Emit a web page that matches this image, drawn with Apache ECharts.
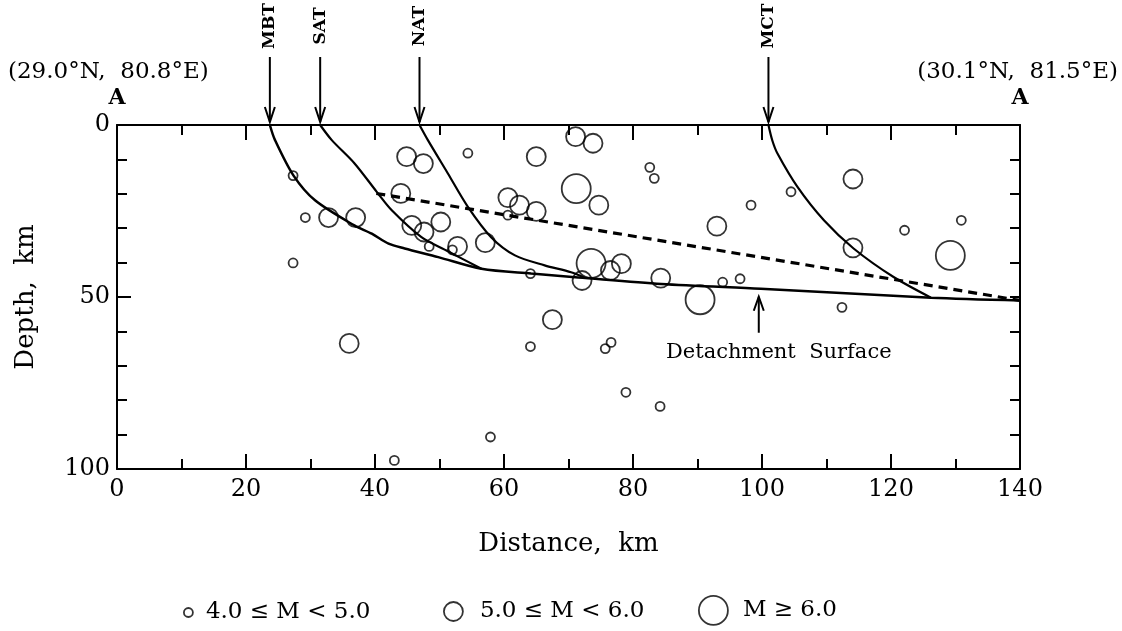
<!DOCTYPE html>
<html>
<head>
<meta charset="utf-8">
<script src="https://cdn.jsdelivr.net/npm/echarts@6/dist/echarts.min.js"></script>
<style>
  html, body { margin: 0; padding: 0; background: #fff; }
  #main { width: 1122px; height: 631px; }
</style>
</head>
<body>
<div id="main"></div>
<script>
// distance (km), depth (km)
var smallQuakes = [
  [27.3, 14.7], [29.2, 26.9], [54.4, 8.2], [60.6, 26.2], [48.4, 35.3], [52.0, 36.3],
  [27.3, 40.1], [64.1, 43.2], [64.1, 64.4], [57.9, 90.7], [43.0, 97.5], [82.6, 12.3],
  [83.3, 15.5], [98.3, 23.3], [104.5, 19.4], [122.1, 30.6], [130.9, 27.7], [93.9, 45.7],
  [96.6, 44.7], [112.4, 53.0], [75.7, 65.0], [76.6, 63.2], [78.9, 77.7], [84.2, 81.8]
];
var mediumQuakes = [
  [32.8, 26.9], [37.0, 26.9], [44.0, 19.9], [44.9, 9.2], [47.5, 11.2], [65.0, 9.2],
  [60.6, 21.1], [62.4, 23.3], [65.0, 25.1], [45.7, 29.2], [47.6, 31.1], [50.2, 28.2],
  [52.8, 35.3], [57.1, 34.2], [67.5, 56.6], [36.0, 63.5], [71.1, 3.4], [73.8, 5.3],
  [74.7, 23.3], [93.0, 29.4], [114.1, 15.7], [114.1, 35.7], [72.1, 45.2], [76.5, 42.3],
  [78.2, 40.3], [84.3, 44.5]
];
var largeQuakes = [[71.2, 18.5], [73.5, 40.2], [90.4, 50.8], [129.2, 37.9]];

// MBT continues as the detachment surface
var mbtFault = [[23.7, 0], [24.5, 4.4], [27.4, 14.8], [30.7, 21.9], [36.8, 29.2], [39.5, 31.6],
  [42.1, 34.5], [44.6, 35.9], [49.8, 38.4], [56.5, 41.8], [64.2, 43.2], [71.5, 44.3],
  [84.4, 46.2], [99.8, 47.6], [126.2, 50.2], [140, 51]];
var satFault = [[31.5, 0], [33.3, 4.4], [36.8, 11.1], [40.3, 19.5], [42.6, 24.8], [47.2, 32.6],
  [51.3, 36.7], [56.5, 41.8]];
var natFault = [[46.9, 0], [48.2, 4.4], [51.3, 14.1], [54.4, 23.8], [58.0, 32.6], [61.7, 37.9],
  [66.3, 40.8], [70.4, 42.8], [72.5, 44.4]];
var mctFault = [[101, 0], [101.6, 4.5], [102.4, 8.3], [105.5, 18], [109.6, 27.7], [114.2, 35.9],
  [120.4, 44.2], [126.2, 50.2]];
var dashedLine = [[40.2, 19.9], [140, 51]];

var faultNames = ['MBT', 'SAT', 'NAT', 'MCT'];
var faultTops = [23.7, 31.5, 46.9, 101];
var detachmentArrowAt = 99.5;

var legendNames = ['4.0 \u2264 M < 5.0', '5.0 \u2264 M < 6.0', 'M \u2265 6.0'];

var FONT = "'DejaVu Serif', serif";
var chart = echarts.init(document.getElementById('main'));

var axisLine = { show: true, onZero: false, lineStyle: { color: '#000', width: 2 } };
var tickStyle = { color: '#000', width: 2 };

function quakeSeries(name, data, size) {
  return {
    name: name,
    type: 'scatter',
    data: data,
    symbol: 'circle',
    symbolSize: size,
    itemStyle: { color: 'rgba(0,0,0,0)', borderColor: '#000', borderWidth: 1.8 },
    emphasis: { disabled: true },
    z: 3
  };
}
function faultSeries(data, width) {
  return {
    type: 'line',
    data: data,
    showSymbol: false,
    smooth: 0.3,
    lineStyle: { color: '#000', width: width },
    emphasis: { disabled: true },
    z: 2
  };
}
function legendFor(i, left, top, size, gap) {
  return {
    data: [legendNames[i]],
    left: left,
    top: top,
    icon: 'circle',
    itemWidth: size,
    itemHeight: size,
    itemStyle: { color: 'rgba(0,0,0,0)', borderColor: '#000', borderWidth: 1.8 },
    textStyle: { fontFamily: FONT, fontSize: 23, color: '#000', padding: [0, 0, 0, gap] },
    selectedMode: false
  };
}

var option = {
  animation: false,
  backgroundColor: '#fff',
  grid: { left: 117, right: 102, top: 125, bottom: 162 },
  xAxis: [{
    type: 'value', min: 0, max: 140, interval: 20, position: 'bottom',
    name: 'Distance,  km', nameLocation: 'middle', nameGap: 62,
    nameTextStyle: { fontFamily: FONT, fontSize: 26, color: '#000' },
    axisLine: axisLine,
    axisTick: { show: true, inside: true, length: 15, lineStyle: tickStyle },
    minorTick: { show: true, splitNumber: 2, length: 10, lineStyle: tickStyle },
    axisLabel: { fontFamily: FONT, fontSize: 24, color: '#000', margin: 9 },
    splitLine: { show: false }
  }, {
    type: 'value', min: 0, max: 140, interval: 20, position: 'top',
    axisLine: axisLine,
    axisTick: { show: true, inside: true, length: 15, lineStyle: tickStyle },
    minorTick: { show: true, splitNumber: 2, length: 10, lineStyle: tickStyle },
    axisLabel: { show: false }, splitLine: { show: false }
  }],
  yAxis: [{
    type: 'value', min: 0, max: 100, interval: 50, inverse: true, position: 'left',
    name: 'Depth,  km', nameLocation: 'middle', nameGap: 78,
    nameTextStyle: { fontFamily: FONT, fontSize: 26, color: '#000' },
    axisLine: axisLine,
    axisTick: { show: true, inside: true, length: 14, lineStyle: tickStyle },
    minorTick: { show: true, splitNumber: 5, length: 10, lineStyle: tickStyle },
    axisLabel: { fontFamily: FONT, fontSize: 24, color: '#000', margin: 7 },
    splitLine: { show: false }
  }, {
    type: 'value', min: 0, max: 100, interval: 50, inverse: true, position: 'right',
    axisLine: axisLine,
    axisTick: { show: true, inside: true, length: 10, lineStyle: tickStyle },
    minorTick: { show: true, splitNumber: 5, length: 10, lineStyle: tickStyle },
    axisLabel: { show: false }, splitLine: { show: false }
  }],
  legend: [
    legendFor(0, 178, 596, 9, 8),
    legendFor(1, 438, 595, 19, 12),
    legendFor(2, 693, 590, 29, 10)
  ],
  series: [
    quakeSeries(legendNames[0], smallQuakes, 9),
    quakeSeries(legendNames[1], mediumQuakes, 19),
    quakeSeries(legendNames[2], largeQuakes, 29),
    faultSeries(mbtFault, 2.5),
    faultSeries(satFault, 2.2),
    faultSeries(natFault, 2.2),
    faultSeries(mctFault, 2.2),
    {
      type: 'line', data: dashedLine, showSymbol: false,
      lineStyle: { color: '#000', width: 3.2, type: [9, 6] },
      emphasis: { disabled: true }, z: 2
    }
  ]
};
chart.setOption(option);

// annotations placed from data coordinates
function px(p) { return chart.convertToPixel({ xAxisIndex: 0, yAxisIndex: 0 }, p); }
function arrowDown(x, y1, y2) {
  return [
    { type: 'line', shape: { x1: x, y1: y1, x2: x, y2: y2 }, style: { stroke: '#000', lineWidth: 2 } },
    { type: 'polyline', shape: { points: [[x - 5, y2 - 15], [x, y2], [x + 5, y2 - 15]] }, style: { stroke: '#000', lineWidth: 2, fill: null } }
  ];
}
var graphics = [];
faultNames.forEach(function (name, i) {
  var p = px([faultTops[i], 0]);
  graphics = graphics.concat(arrowDown(p[0], 57, p[1] - 3));
  graphics.push({
    type: 'text', x: p[0], y: 26, rotation: Math.PI / 2,
    style: { text: name, font: 'bold 17px ' + FONT, fill: '#000', align: 'center', verticalAlign: 'middle' }
  });
});
var d = px([detachmentArrowAt, 47.6]);
graphics.push({ type: 'line', shape: { x1: d[0], y1: d[1] + 8, x2: d[0], y2: d[1] + 44 }, style: { stroke: '#000', lineWidth: 2 } });
graphics.push({ type: 'polyline', shape: { points: [[d[0] - 5, d[1] + 22], [d[0], d[1] + 8], [d[0] + 5, d[1] + 22]] }, style: { stroke: '#000', lineWidth: 2, fill: null } });
graphics.push({ type: 'text', x: d[0] + 20, y: d[1] + 64, style: { text: 'Detachment  Surface', font: '21px ' + FONT, fill: '#000', align: 'center', verticalAlign: 'middle' } });

var o0 = px([0, 0]), o1 = px([140, 0]);
graphics.push({ type: 'text', x: 8, y: 72, style: { text: '(29.0\u00b0N,  80.8\u00b0E)', font: '23px ' + FONT, fill: '#000', align: 'left', verticalAlign: 'middle' } });
graphics.push({ type: 'text', x: o0[0], y: 98, style: { text: 'A', font: 'bold 22px ' + FONT, fill: '#000', align: 'center', verticalAlign: 'middle' } });
graphics.push({ type: 'text', x: 1118, y: 72, style: { text: '(30.1\u00b0N,  81.5\u00b0E)', font: '23px ' + FONT, fill: '#000', align: 'right', verticalAlign: 'middle' } });
graphics.push({ type: 'text', x: o1[0], y: 98, style: { text: 'A', font: 'bold 22px ' + FONT, fill: '#000', align: 'center', verticalAlign: 'middle' } });

chart.setOption({ graphic: graphics });
</script>
</body>
</html>
